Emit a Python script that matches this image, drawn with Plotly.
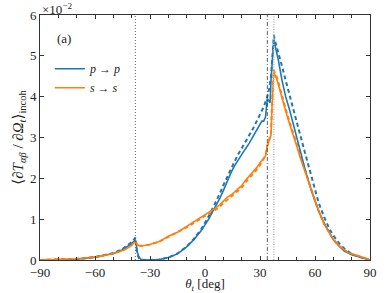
import plotly.graph_objects as go

# ---- data ----
theta_p = [-90, -80, -70, -60, -55, -50, -45, -42, -40, -38.5, -38, -37.5, -37, -36, -35, -33, -30, -25, -20, -15,
           -10, -6, -2, 0, 2, 4, 6, 8, 10, 12, 14, 16, 18, 20, 22, 24, 26, 28, 30, 31, 32, 33, 34, 35, 35.5,
           36, 37, 37.5, 38, 38.5, 39, 40, 42, 44, 46, 48, 50, 52, 55, 58, 60, 62, 65, 68, 70, 73, 76, 80, 84, 87, 90]
p_solid = [0, 0.005, 0.02, 0.07, 0.11, 0.16, 0.25, 0.33, 0.40, 0.47, 0.50, 0.40, 0.2, 0.07, 0.02, 0.0, 0.0, 0.01, 0.06, 0.15,
           0.32, 0.5, 0.72, 0.85, 1.0, 1.17, 1.32, 1.5, 1.7, 1.92, 2.12, 2.3, 2.45, 2.6, 2.72, 2.85, 3.0, 3.15, 3.3, 3.4, 3.4, 3.5, 3.95, 3.9, 3.85,
           4.4, 5.0, 5.4, 5.3, 5.2, 5.1, 4.9, 4.4, 4.0, 3.7, 3.35, 3.0, 2.7, 2.15, 1.7, 1.45, 1.2, 0.9, 0.65, 0.5, 0.35, 0.22, 0.13, 0.08, 0.04, 0.0]

theta_pd = [-90, -80, -70, -60, -55, -50, -45, -42, -40, -38.5, -38, -37.5, -37, -36, -34, -30, -25, -20, -15, -10, -6, -2,
            0, 2, 4, 6, 8, 10, 12, 14, 16, 18, 20, 22, 24, 26, 28, 30, 32, 34, 35, 36, 37, 37.6, 38, 39, 40, 42, 44,
            46, 48, 50, 52, 55, 58, 60, 62, 65, 68, 70, 73, 76, 80, 84, 87, 90]
p_dashed = [0, 0.005, 0.02, 0.07, 0.12, 0.17, 0.27, 0.36, 0.44, 0.52, 0.55, 0.35, 0.15, 0.04, 0.0, 0.0, 0.01, 0.06, 0.16, 0.33, 0.52, 0.76,
            0.9, 1.07, 1.25, 1.42, 1.62, 1.83, 2.03, 2.22, 2.4, 2.58, 2.73, 2.88, 3.03, 3.2, 3.38, 3.55, 3.75, 4.0, 4.2, 4.5, 5.0, 5.5, 5.4, 5.25, 5.1, 4.75, 4.4,
            4.05, 3.7, 3.4, 3.05, 2.55, 2.05, 1.7, 1.4, 1.05, 0.75, 0.6, 0.42, 0.28, 0.15, 0.08, 0.04, 0.0]

theta_s = [-90, -80, -70, -60, -55, -50, -45, -42, -40, -38.5, -38, -37, -36, -34, -30, -25, -20, -15, -10, -6, -3,
           0, 3, 5, 8, 10, 12, 15, 18, 20, 22, 25, 28, 30, 32, 33, 34, 35, 36, 36.5, 37, 37.5, 38, 39, 40, 42, 44,
           46, 48, 50, 52, 55, 58, 60, 62, 65, 68, 70, 73, 76, 78, 80, 84, 87, 90]
s_solid = [0, 0.01, 0.03, 0.07, 0.11, 0.16, 0.23, 0.3, 0.37, 0.43, 0.45, 0.38, 0.35, 0.35, 0.38, 0.45, 0.58, 0.68, 0.82, 0.93, 1.02,
           1.1, 1.18, 1.25, 1.35, 1.45, 1.53, 1.62, 1.75, 1.82, 1.95, 2.1, 2.25, 2.38, 2.5, 2.55, 2.8, 2.95, 3.05, 3.7, 4.2, 4.6, 4.55, 4.45, 4.3, 3.95, 3.65,
           3.35, 3.1, 2.8, 2.5, 2.1, 1.7, 1.45, 1.2, 0.88, 0.65, 0.5, 0.35, 0.24, 0.18, 0.15, 0.1, 0.05, 0]
s_dashed = [0, 0.01, 0.03, 0.07, 0.11, 0.16, 0.23, 0.3, 0.37, 0.43, 0.45, 0.38, 0.35, 0.35, 0.38, 0.45, 0.57, 0.67, 0.8, 0.91, 1.0,
            1.08, 1.15, 1.21, 1.3, 1.39, 1.47, 1.57, 1.69, 1.77, 1.9, 2.05, 2.2, 2.33, 2.47, 2.55, 2.8, 2.97, 3.1, 3.75, 4.25, 4.65, 4.6, 4.5, 4.35, 4.0, 3.7,
            3.4, 3.12, 2.82, 2.52, 2.1, 1.7, 1.45, 1.2, 0.88, 0.65, 0.5, 0.35, 0.24, 0.18, 0.15, 0.1, 0.05, 0]

crit_angles = [-38.0, 34.0, 37.5]
x_ticks = [-90, -60, -30, 0, 30, 60, 90]
x_tick_labels = ["\u221290", "\u221260", "\u221230", "0", "30", "60", "90"]
y_ticks = [0, 1, 2, 3, 4, 5, 6]

BLUE = "#1f77b4"
ORANGE = "#ff7f0e"
FONT = "Liberation Serif, Times New Roman, DejaVu Serif, serif"

fig = go.Figure()
fig.add_trace(go.Scatter(x=theta_pd, y=p_dashed, mode="lines", line=dict(color=BLUE, width=2, dash="4px,3px"),
                         showlegend=False))
fig.add_trace(go.Scatter(x=theta_s, y=s_dashed, mode="lines", line=dict(color=ORANGE, width=2, dash="4px,3px"),
                         showlegend=False))
fig.add_trace(go.Scatter(x=theta_p, y=p_solid, mode="lines", line=dict(color=BLUE, width=1.6),
                         name="<i>p</i> \u2192 <i>p</i>"))
fig.add_trace(go.Scatter(x=theta_s, y=s_solid, mode="lines", line=dict(color=ORANGE, width=1.6),
                         name="<i>s</i> \u2192 <i>s</i>"))

fig.add_vline(x=crit_angles[0], line=dict(color="#333", width=0.8, dash="1px,2px"))
fig.add_vline(x=crit_angles[1], line=dict(color="#333", width=0.8, dash="4px,2px,1px,2px"))
fig.add_vline(x=crit_angles[2], line=dict(color="#bbb", width=1.6, dash="1px,1.5px"))

axis_common = dict(showgrid=False, zeroline=False, showline=True, linecolor="#333", linewidth=1, mirror="ticks",
                   ticks="inside", ticklen=4, tickcolor="#333", automargin=False,
                   tickfont=dict(family=FONT, size=13, color="#222"))

fig.update_xaxes(range=[-90, 90], tickvals=x_ticks, ticktext=x_tick_labels,
                 minor=dict(dtick=10, ticks="inside", ticklen=3, tickcolor="#333"),
                 title=dict(text="<i>\u03b8<sub>t</sub></i> [deg]", font=dict(family=FONT, size=13, color="#222"), standoff=3),
                 **axis_common)
fig.update_yaxes(range=[0, 6], tickvals=y_ticks,
                 title=dict(text="\u27e8<i>\u2202T<sub>\u03b1\u03b2</sub></i> / <i>\u2202\u03a9<sub>t</sub></i>\u27e9<sub>incoh</sub>",
                            font=dict(family=FONT, size=15, color="#222"), standoff=2),
                 **axis_common)

fig.add_annotation(x=0, y=1, xref="paper", yref="paper", xanchor="left", yanchor="bottom", showarrow=False,
                   text="\u00d710<sup>\u22122</sup>", font=dict(family=FONT, size=13, color="#222"), yshift=-4)
fig.add_annotation(x=0.045, y=0.905, xref="paper", yref="paper", xanchor="left", yanchor="middle", showarrow=False,
                   text="(a)", font=dict(family=FONT, size=13, color="#222"))

fig.update_layout(
    width=390, height=293,
    margin=dict(l=40, r=20, t=15, b=33),
    paper_bgcolor="white", plot_bgcolor="white",
    legend=dict(x=0.03, y=0.84, xanchor="left", yanchor="top", bgcolor="rgba(0,0,0,0)",
                font=dict(family=FONT, size=12, color="#222"), itemwidth=30, tracegroupgap=0),
)

fig.write_html("out.html", config={"displayModeBar": False},
               post_script="document.body.style.margin='0';")
